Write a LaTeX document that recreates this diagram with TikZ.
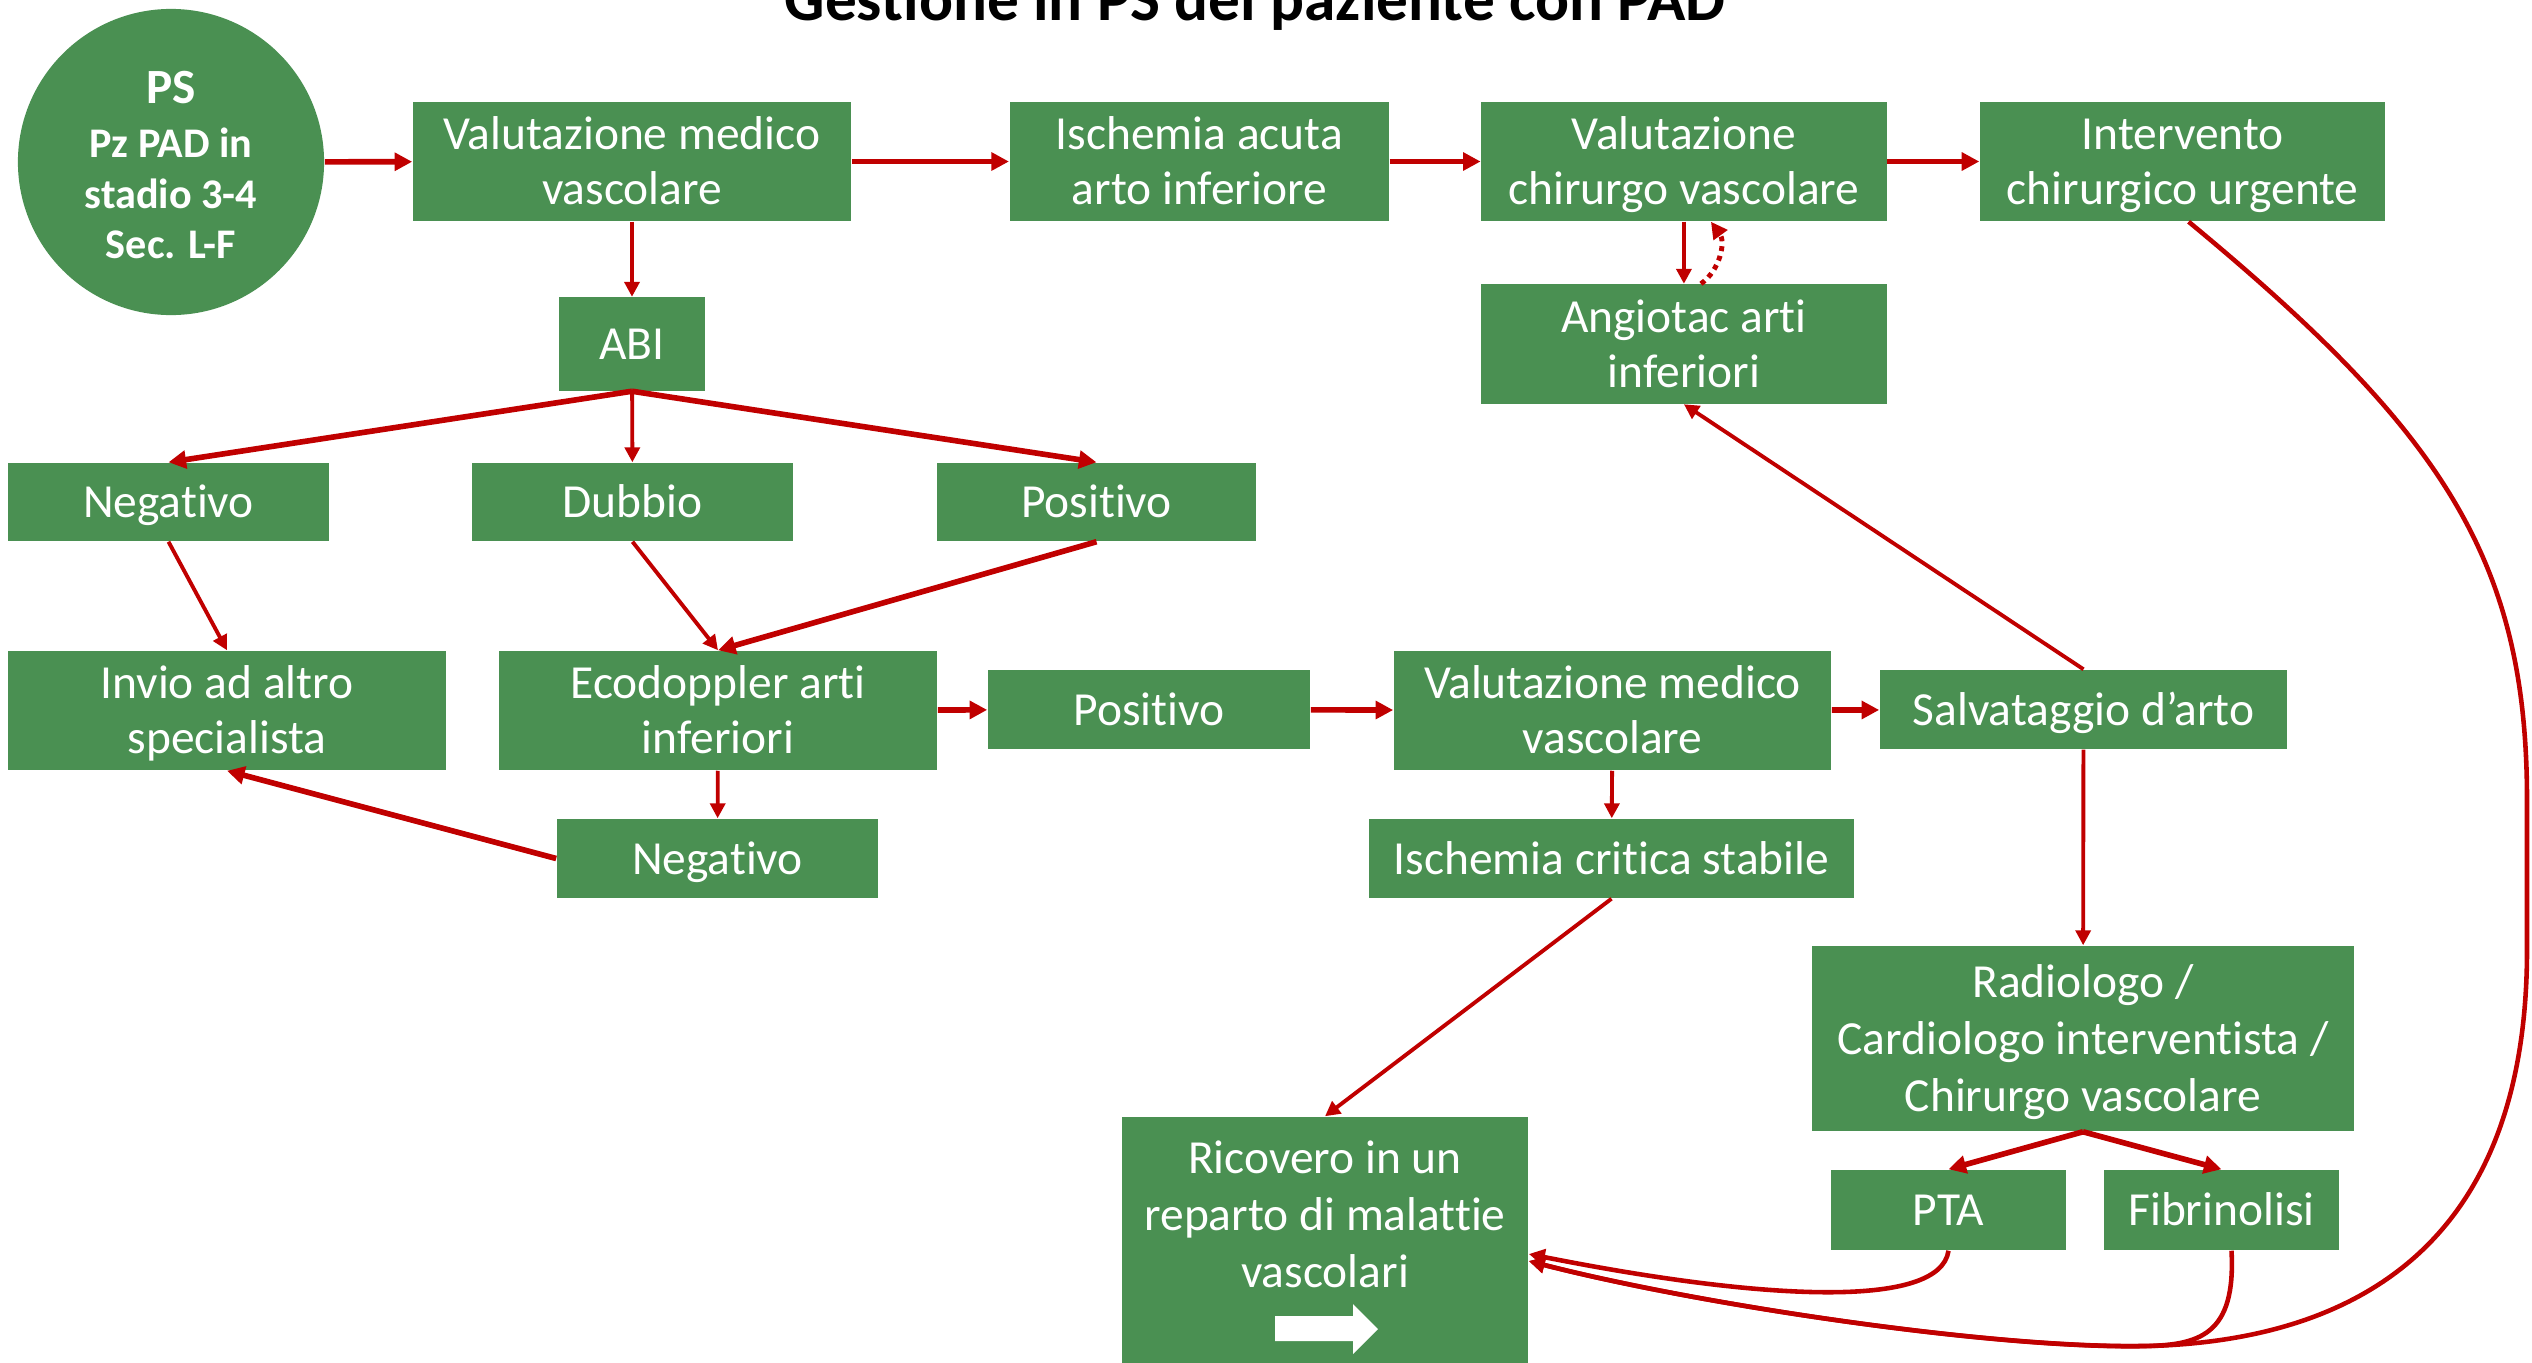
\documentclass[tikz,border=0pt]{standalone}
\usepackage{fontspec}
\setmainfont[RawFeature={-liga}]{Carlito}
\usetikzlibrary{arrows.meta,positioning}
\definecolor{boxgreen}{RGB}{74,144,82}
\definecolor{linkred}{RGB}{192,0,0}
\newcommand{\hstrut}{\rule{0pt}{13pt}}
\tikzset{>/.tip={Triangle[length=2.6pt 1.5,width=2.6pt 1.5]}}
\tikzset{box/.style={fill=boxgreen,text=white,align=center,inner sep=0pt,font=\fontsize{13.5}{15.6}\selectfont,
    execute at begin node={\rule{0pt}{13pt}},execute at end node={\rule[-4pt]{0pt}{4pt}}}}
\tikzset{link/.style={->,draw=linkred,line width=1.1pt}}
\tikzset{thicklink/.style={link,line width=1.6pt}}

\begin{document}
\begin{tikzpicture}[x=0.01cm,y=-0.01cm]
        \useasboundingbox (0,0) rectangle (2532,1363);
        \node(title)[anchor=base,font=\bfseries\fontsize{18}{22}\selectfont] at (1255,20) {Gestione in PS del paziente con PAD};
        \node(ps)[circle,fill=boxgreen,text=white,minimum size=3.06cm,inner sep=0pt,align=center,font=\bfseries\fontsize{12}{14.4}\selectfont] at (171,162) {\rule{0pt}{11pt}{\fontsize{14}{16}\selectfont PS}\\[1pt]Pz PAD in\\stadio 3-4\\Sec. L-F};
        \node(vmvA)[box,minimum width=4.38cm,minimum height=1.19cm] at (632,161.5) {\hstrut Valutazione medico\\vascolare};
        \node(isch)[box,minimum width=3.79cm,minimum height=1.19cm,right=1.57cm of vmvA]{\hstrut Ischemia acuta\\arto inferiore};
        \node(vcv)[box,minimum width=4.05cm,minimum height=1.19cm,right=0.91cm of isch]{\hstrut Valutazione\\chirurgo vascolare};
        \node(icu)[box,minimum width=4.05cm,minimum height=1.19cm,right=0.92cm of vcv]{\hstrut Intervento\\chirurgico urgente};
        \node(angio)[box,minimum width=4.05cm,minimum height=1.19cm,below=0.62cm of vcv]{\hstrut Angiotac arti\\inferiori};
        \node(abi)[box,minimum width=1.46cm,minimum height=0.93cm,below=0.75cm of vmvA]{ABI};
        \node(negA)[box,minimum width=3.21cm,minimum height=0.78cm] at (168.5,502) {Negativo};
        \node(dub)[box,minimum width=3.21cm,minimum height=0.78cm] at (632.5,502) {Dubbio};
        \node(posA)[box,minimum width=3.19cm,minimum height=0.78cm] at (1096.5,502) {Positivo};
        \node(invio)[box,minimum width=4.38cm,minimum height=1.19cm] at (227,710.5) {\hstrut Invio ad altro\\specialista};
        \node(eco)[box,minimum width=4.38cm,minimum height=1.19cm] at (718,710.5) {\hstrut Ecodoppler arti\\inferiori};
        \node(posB)[box,minimum width=3.22cm,minimum height=0.79cm] at (1149,709.5) {Positivo};
        \node(vmvB)[box,minimum width=4.37cm,minimum height=1.19cm] at (1612.5,710.5) {\hstrut Valutazione medico\\vascolare};
        \node(salv)[box,minimum width=4.07cm,minimum height=0.79cm] at (2083.5,709.5) {Salvataggio d’arto};
        \node(negB)[box,minimum width=3.21cm,minimum height=0.79cm] at (717.5,858.5) {Negativo};
        \node(icrit)[box,minimum width=4.85cm,minimum height=0.79cm] at (1611.5,858.5) {Ischemia critica stabile};
        \node(radio)[box,minimum width=5.42cm,minimum height=1.85cm,font=\fontsize{13.5}{16.2}\selectfont] at (2083,1038.5) {\hstrut Radiologo /\\Cardiologo interventista /\\Chirurgo vascolare};
        \node(pta)[box,minimum width=2.35cm,minimum height=0.80cm] at (1948.5,1210) {PTA};
        \node(fibr)[box,minimum width=2.35cm,minimum height=0.80cm] at (2221.5,1210) {Fibrinolisi};
        \fill[boxgreen] (1122,1200) rectangle (1528,1400);
        \node(ricov)[box,minimum width=4.06cm,minimum height=1.96cm,font=\fontsize{13.5}{16.2}\selectfont] at (1325,1215) {\hstrut Ricovero in un\\reparto di malattie\\vascolari};
        % white arrow at the foot of the box
        \fill[white] (1275,1316) -- (1353,1316) -- (1353,1304) -- (1378,1329) -- (1353,1354) -- (1353,1341) -- (1275,1341) -- cycle;
        \coordinate (inA) at ([yshift=-0.39cm]ricov.east);
        \coordinate (inB) at ([yshift=-0.46cm]ricov.east);
        % top row
        \draw[thicklink] (ps) -- (vmvA);
        \draw[thicklink] (vmvA) -- (isch);
        \draw[thicklink] (isch) -- (vcv);
        \draw[thicklink] (vcv) -- (icu);
        \draw[link] (vcv) -- (angio);
        \draw[link,line width=1.4pt,dash pattern=on 1.4pt off 1.4pt] ([xshift=0.17cm]angio.north) to[bend right=45] ([xshift=0.27cm]vcv.south);
        % ABI branch
        \draw[link] (vmvA) -- (abi);
        \draw[thicklink] (abi.south) -- (negA.north);
        \draw[link] (abi) -- (dub);
        \draw[thicklink] (abi.south) -- (posA.north);
        \draw[link] (negA.south) -- (invio.north);
        \draw[link] (dub.south) -- (eco.north);
        \draw[thicklink] (posA.south) -- (eco.north);
        \draw[thicklink] (eco) -- (posB);
        \draw[link] (eco) -- (negB);
        \draw[thicklink] (negB.west) -- (invio.south);
        \draw[thicklink] (posB) -- (vmvB);
        \draw[thicklink] (vmvB) -- (salv);
        \draw[link] (vmvB) -- (icrit);
        \draw[link] (icrit.south) -- (ricov.north);
        \draw[link] (salv.north) -- (angio.south);
        \draw[link] (salv) -- (radio);
        \draw[thicklink] (radio.south) -- (pta.north);
        \draw[thicklink] (radio.south) -- (fibr.north);
        % back to the ward
        \draw[link,line width=1.3pt] (pta.south) .. controls (1940,1310) and (1760,1300) .. (inA);
        \draw[link,line width=1.3pt] ([xshift=0.1cm]fibr.south) .. controls (2236,1335) and (2200,1346) .. (2140,1346) .. controls (1990,1348) and (1700,1305) .. (inB);
        \draw[link,line width=1.3pt] ([xshift=0.06cm]icu.south) .. controls (2443,432) and (2527,560) .. (2527,800) -- (2527,950) .. controls (2527,1250) and (2350,1340) .. (2150,1346) .. controls (2000,1350) and (1700,1305) .. (inB);
      \end{tikzpicture}
\end{document}
